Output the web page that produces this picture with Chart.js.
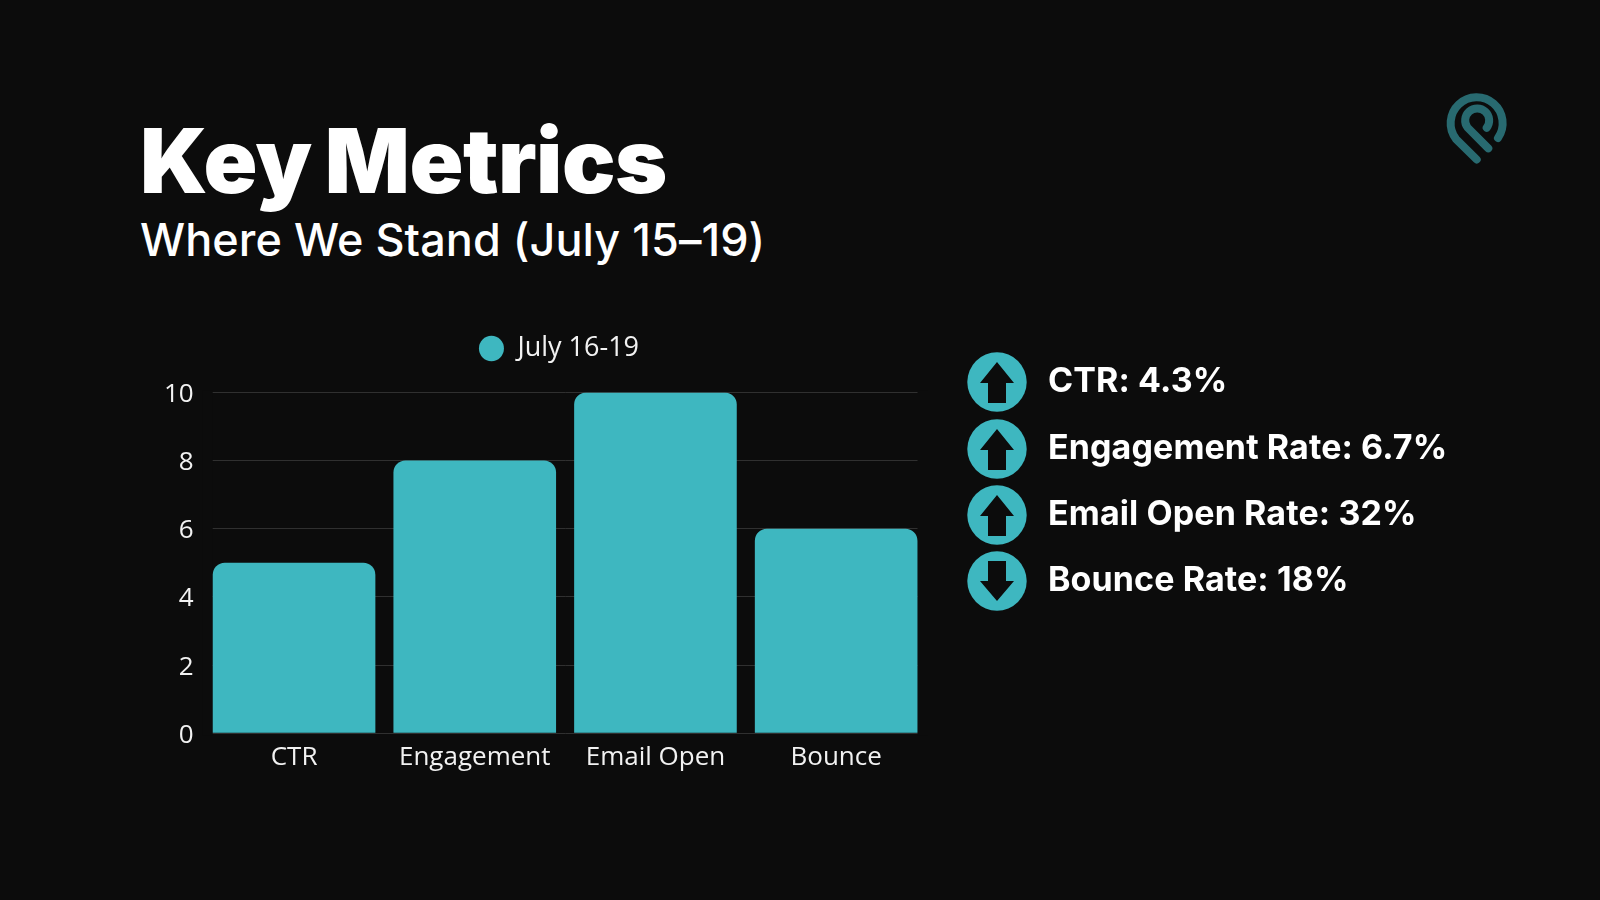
<!DOCTYPE html>
<html><head><meta charset="utf-8">
<script src="https://cdn.jsdelivr.net/npm/chart.js@4"></script>
<style>
html,body{margin:0;padding:0;background:#0c0c0c;width:1600px;height:900px;overflow:hidden;position:relative}
#wrap{position:absolute;left:130px;top:279px;width:858px;height:511px}
h1{position:absolute;left:140px;top:107px;margin:0;font:900 89px/108px Inter;letter-spacing:-.5px;word-spacing:-4px;color:#fff;white-space:nowrap}
h2{position:absolute;left:140px;top:211px;margin:0;font:550 45px/58px Inter;letter-spacing:.06px;color:#fff;white-space:nowrap}
.row{position:absolute;left:967px;height:60px;display:flex;align-items:center;white-space:nowrap;color:#fff;font:700 34px/60px Inter;letter-spacing:.1px}
.row svg{width:60px;height:60px;margin-right:21px;flex:none}
.row span{position:relative;top:-2px}
#logo{position:absolute;left:1420px;top:80px;width:100px;height:100px}
</style></head><body>
<h1 id="title"></h1><h2 id="subtitle"></h2>
<div id="wrap"><canvas id="c" width="858" height="511"></canvas></div>
<div id="side"></div>
<svg id="logo" viewBox="0 0 100 100" fill="none" stroke="#286a70" stroke-width="8" stroke-linecap="round">
<path d="M56.7 79.5 L36 59 A26 26 0 1 1 78 58"/>
<path d="M68.3 68.3 L47.5 47.5 A12 12 0 1 1 66.7 47.7"/>
</svg>
<script>
const categories=["CTR","Engagement","Email Open","Bounce"];
const seriesName="July 16-19";
const values=[5,8,10,6];
const sideLabels=["CTR: 4.3%","Engagement Rate: 6.7%","Email Open Rate: 32%","Bounce Rate: 18%"];
const sideDirections=["up","up","up","down"];
const sideTops=[352,419,485,551];
const titleText="Key Metrics";
const subtitleText="Where We Stand (July 15–19)";
const TEAL="#3eb7c0",BG="#0c0c0c";
document.getElementById("title").textContent=titleText;
document.getElementById("subtitle").textContent=subtitleText;
const side=document.getElementById("side");
sideLabels.forEach((t,i)=>{
  const r=document.createElement("div");r.className="row";r.style.top=sideTops[i]+"px";
  const up="M30 10 L47 31 L39 31 L39 51 L21 51 L21 31 L13 31 Z";
  const down="M21 10 L39 10 L39 30 L47 30 L30 50 L13 30 L21 30 Z";
  r.innerHTML=`<svg viewBox="0 0 60 60"><circle cx="30" cy="30" r="29.7" fill="${TEAL}"/><path d="${sideDirections[i]==="up"?up:down}" fill="${BG}"/></svg><span>${t}</span>`;
  side.appendChild(r);
});
const maskEdges={id:"maskEdges",beforeDatasetsDraw(ch){
  const a=ch.chartArea,g=ch.ctx;g.save();g.fillStyle=BG;
  g.fillRect(a.left-1,a.top-2,10,a.height+4);g.fillRect(a.right-9,a.top-2,10,a.height+4);g.restore();}};
const labelFont={family:"Open Sans",size:26,weight:"400"};
new Chart(document.getElementById("c"),{
  type:"bar",
  data:{labels:categories,datasets:[{label:seriesName,data:values,backgroundColor:TEAL,borderRadius:12,barPercentage:0.9,categoryPercentage:1}]},
  plugins:[maskEdges],
  options:{responsive:false,animation:false,
    layout:{padding:{left:0,right:0,top:0,bottom:15.5}},
    plugins:{tooltip:{enabled:false},legend:{position:"top",labels:{usePointStyle:true,pointStyle:"circle",pointStyleWidth:25,boxHeight:18,padding:56,color:"#f2f2f2",font:{family:"Open Sans",size:27,weight:"400"}}}},
    scales:{
      x:{grid:{display:false},border:{display:false},ticks:{color:"#f2f2f2",padding:1,font:labelFont,maxRotation:0}},
      xTop:{position:"top",afterFit(s){s.height=20.4},ticks:{display:false},grid:{display:false,drawTicks:false},border:{display:false}},
      y:{min:0,max:10,afterFit(s){s.width=73.7},ticks:{stepSize:2,color:"#f2f2f2",padding:10,labelOffset:2,font:labelFont},grid:{color:"#303030",lineWidth:1,drawTicks:false},border:{display:false}},
      yRight:{position:"right",afterFit(s){s.width=61.5},ticks:{display:false},grid:{display:false,drawTicks:false},border:{display:false}}
    }}
});
</script>
</body></html>
